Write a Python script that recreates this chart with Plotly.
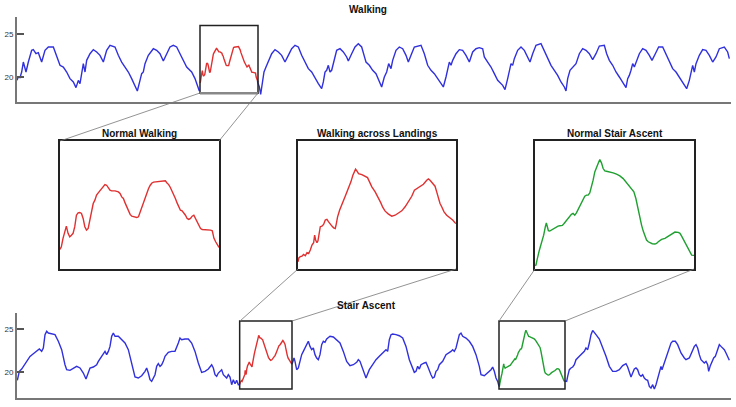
import plotly.graph_objects as go

# ---------------- data ----------------
# Walking, blue part before the highlighted segment
walk_t_pre = [51,55,60,65,70,75,78,85,95,100,108,115,125,135,145,160,170,180,190,200,210,220,228,235,240,245,250,255,260,270,280,290,300,310,320,330,345,355,365,375,385,395,405,412,420,425,430,435,445,460,470,480,490,500,510,520,530,540,550,560,575,585,592,598]
walk_v_pre = [19.61,20.00,19.92,20.58,21.74,21.16,20.58,21.74,23.10,23.18,22.71,22.83,21.74,23.10,23.49,23.49,22.52,21.36,21.16,20.58,19.81,19.42,18.76,19.61,19.22,20.58,21.55,20.58,21.94,22.71,23.18,22.91,22.52,21.74,23.10,23.68,23.49,22.52,21.74,21.16,20.58,19.81,19.03,18.37,19.61,20.39,20.58,21.55,22.52,23.29,23.10,22.71,21.86,22.71,23.49,23.68,23.49,22.71,21.94,21.16,20.58,19.81,19.03,18.37]
# Walking, blue part after the highlighted segment
walk_t_post = [772,778,782,787,792,798,805,815,825,835,845,855,865,875,885,895,905,915,925,935,945,955,965,970,975,980,985,990,995,1000,1010,1020,1030,1040,1045,1055,1065,1075,1085,1095,
               1098,1108,1118,1128,1138,1145,1153,1160,1166,1173,1178,1188,1198,1208,1218,1225,1233,1243,1263,1273,1283,1293,1303,1313,1323,1330,1338,1343,1348,1353,1358,1368,1378,1388,1398,1408,1418,1428,1438,1448,1453,1463,1473,1483,1493,1508,1515,1523,1528,1533,1538,1543,1553,1563,1573,1583,1590,1598,1608,1623,1633,1643,1653,1663,1673,1683,1693,1698,1703,1710,1718,1728,1738,1748,1758,1768,1778,1788,1798,1813,1820,1828,1838,1848,1858,1868,1878,1883,1888,1893,1898,1903,1908,1918,1928,1938,1948,1956,1966,1976,1988,1998,2008,2018,2028,2038,2048,2060,2068,2073,2078,2083,2088,2098,2108,2118,2128,2138,2148,2158,2173,2183,2188]
walk_v_post = [19.50,18.84,17.98,19.22,20.58,21.16,21.74,22.71,23.18,22.91,22.52,21.74,22.52,23.29,23.68,23.49,22.52,21.74,20.97,20.58,19.81,19.22,18.64,19.42,20.58,20.78,21.36,20.58,20.78,21.55,23.10,23.29,22.91,22.33,21.86,22.71,23.49,23.88,23.49,22.13,
               21.74,21.36,20.78,20.39,19.42,18.84,20.00,20.58,21.55,20.97,21.94,23.10,23.49,23.29,22.52,21.74,22.52,23.49,23.68,22.71,21.36,20.78,20.39,19.81,19.22,18.84,20.00,20.78,21.74,21.36,21.94,22.71,23.18,23.10,22.52,21.74,22.91,23.29,23.41,23.29,22.33,21.74,21.16,20.39,19.61,19.03,18.53,19.81,20.58,21.55,21.36,22.13,23.10,23.49,23.10,22.33,21.74,22.71,23.68,23.88,23.10,22.13,21.36,20.78,20.19,19.42,18.84,18.37,19.81,20.78,21.16,21.55,22.71,23.29,23.10,22.71,22.02,22.71,23.60,23.68,22.71,21.94,21.36,20.58,20.00,19.42,18.76,19.81,20.19,20.78,21.55,21.16,21.74,22.71,23.29,23.10,22.52,21.94,22.71,23.49,23.49,22.71,21.74,20.97,20.58,20.00,19.42,18.64,19.61,20.39,21.36,20.58,21.55,22.52,23.18,23.10,22.52,21.74,22.33,23.29,23.49,22.91,22.13]

# Stair ascent, blue parts
stair_t_pre = [52,58,65,72,80,90,100,110,118,125,130,135,140,145,155,165,175,185,195,200,210,220,230,240,250,258,265,270,280,290,295,305,310,315,320,325,330,335,340,345,355,365,375,385,395,405,415,425,435,440,445,450,455,460,465,470,475,480,485,490,495,505,515,525,530,535,540,545,555,565,575,585,595,605,615,625,635,640,645,650,655,665,670,675,680,685,690,695,700,705,710,715,719]
stair_v_pre = [19.03,20.08,20.35,20.74,21.12,21.82,22.13,22.40,22.67,22.40,22.79,24.34,24.73,24.53,24.46,24.34,23.57,22.60,20.85,20.27,20.19,20.47,20.66,20.47,19.88,19.19,20.08,20.47,20.58,20.85,21.24,21.82,22.21,22.40,22.02,22.40,22.98,24.15,24.53,24.15,24.15,23.76,23.37,22.60,20.85,19.42,19.30,19.57,20.08,20.47,19.88,19.11,18.91,19.30,19.69,20.66,20.97,20.66,20.85,21.24,21.82,22.29,22.40,22.40,22.79,23.37,23.95,23.76,23.84,23.84,23.37,22.40,21.05,19.96,20.08,20.35,20.85,20.47,19.69,19.50,19.88,20.27,19.69,19.50,19.30,19.69,19.42,18.53,19.11,18.64,19.03,18.53,18.55]
stair_t_mid = [876,882,885,890,895,900,905,910,915,920,925,930,935,940,945,950,955,960,965,970,975,980,990,1000,1010,1020,1030,1040,1050,1060,1070,1075,1080,1085,1090,1098,1108,1118,1128,1138,1148,1153,1158,1163,1168,1173,1178,1188,1198,1208,1218,1228,1238,1243,1248,1253,1258,1263,1273,1278,1283,1288,1293,1298,1303,1308,1313,1318,1328,1338,1348,1353,1358,1363,1368,1373,1378,1383,1388,1398,1408,1418,1428,1438,1443,1453,1463,1473,1478,1483,1488,1493,1497]
stair_v_mid = [20.91,21.63,21.24,20.27,20.47,21.24,22.02,22.40,22.79,23.37,23.57,22.98,22.60,22.79,22.02,21.63,21.43,22.02,23.18,23.57,23.45,23.84,24.15,24.07,23.76,23.37,22.40,21.24,20.74,20.85,21.12,21.43,21.24,20.74,20.08,19.30,20.27,20.85,21.43,21.82,22.21,22.40,22.60,22.40,23.76,24.34,24.42,24.34,24.22,23.95,22.98,21.43,20.27,19.96,20.08,20.66,20.35,20.85,21.05,21.12,20.66,20.08,19.69,19.30,19.42,20.08,20.27,20.85,21.24,22.02,22.21,22.40,22.60,22.40,22.79,23.76,24.34,24.53,24.15,23.95,23.57,22.98,22.02,20.66,19.69,19.57,19.88,20.27,20.58,20.08,19.30,18.91,18.33]
stair_t_post = [1695,1700,1703,1708,1713,1718,1723,1728,1738,1743,1753,1758,1763,1768,1773,1778,1783,1788,1798,1803,1808,1818,1828,1838,1848,1858,1868,1878,1883,1888,1893,1898,1903,1908,1913,1918,1923,1928,1933,1938,1943,1948,1953,1958,1963,1968,1973,1978,1983,1986,1991,1998,2003,2008,2013,2018,2026,2033,2043,2053,2058,2068,2078,2083,2088,2093,2098,2103,2113,2118,2123,2126,2131,2136,2141,2146,2153,2158,2163,2173,2178,2183,2188]
stair_v_post = [18.94,18.91,19.50,20.27,20.47,20.58,20.85,21.43,21.82,22.02,22.40,22.79,22.60,23.37,24.34,24.84,24.53,24.34,23.84,23.37,22.79,21.82,20.66,20.08,20.08,20.27,20.74,20.97,20.58,19.88,19.42,19.88,20.35,20.47,20.27,19.69,19.50,19.69,19.30,19.11,19.03,18.33,18.14,18.53,18.02,18.53,19.30,19.88,20.66,20.27,20.85,21.43,22.02,22.79,23.37,23.57,23.57,23.18,22.21,21.63,21.43,21.63,22.60,22.98,23.18,22.79,22.02,21.43,21.05,21.24,20.85,20.08,20.74,21.24,21.63,21.82,22.60,23.18,22.98,22.60,22.21,21.82,21.36]

# Inset segments (local sample positions inside each magnified window)
nw_t = [31,35,40,45,50,55,60,65,70,75,80,85,90,95,100,105,110,115,120,125,130,135,140,145,150,155,160,165,170,175,180,185,195,205,210,215,220,225,230,235,240,245,250,260,265,270,275,280,285,290,295,300,305,310,320,330,340,345,350,355,360,365,370,375,380,385,390,395,400,405,410,415,420,425,430,435,440,445,450,455,465,475,480,485,490,495,500,505]
nw_v = [19.31,19.47,19.99,20.40,20.75,20.30,20.09,20.19,20.30,20.71,21.42,21.57,21.59,21.53,21.22,20.71,20.50,20.60,21.12,21.63,22.14,22.35,22.66,22.80,22.92,23.07,23.21,23.31,23.27,23.07,22.96,22.92,22.92,22.86,22.76,22.55,22.45,22.18,21.90,21.63,21.47,21.36,21.32,21.28,21.32,21.63,21.94,22.25,22.51,22.76,23.07,23.27,23.41,23.46,23.48,23.48,23.54,23.54,23.41,23.31,23.13,22.86,22.66,22.45,22.18,21.90,21.73,21.69,21.57,21.42,21.22,21.16,21.22,21.36,21.42,21.22,21.01,20.75,20.60,20.54,20.54,20.54,20.50,20.46,19.99,19.78,19.62,19.43]
la_t = [53,56,60,65,70,75,80,85,90,95,100,103,106,110,113,117,120,125,130,135,140,145,150,155,160,165,168,172,178,185,190,195,200,207,212,218,222,226,230,235,245,255,262,268,275,285,295,302,308,315,325,335,345,355,365,375,385,395,403,410,420,430,440,445,450,460,465,470,475,480,485,492,500,510,518,525,528]
la_v = [18.55,18.80,18.86,18.90,19.00,18.92,19.11,19.06,19.27,19.58,19.72,20.19,19.89,19.72,19.84,20.30,20.71,20.75,20.85,21.12,21.16,21.01,20.91,20.75,20.64,20.60,20.87,21.32,21.73,22.04,22.35,22.59,22.86,23.17,23.48,23.89,24.15,24.26,24.15,23.99,23.93,23.83,23.74,23.48,23.17,22.86,22.51,22.18,21.90,21.67,21.49,21.36,21.42,21.57,21.69,21.94,22.25,22.59,22.96,23.07,23.17,23.33,23.58,23.66,23.58,23.37,23.21,22.86,22.45,22.14,21.94,21.63,21.42,21.28,21.12,20.95,20.91]
sa_t = [46,49,52,55,58,62,67,72,77,80,83,86,90,95,100,105,110,115,120,128,133,138,145,150,155,160,165,170,175,180,185,190,195,200,205,210,215,220,225,230,235,240,245,250,255,260,270,280,290,300,310,318,325,335,342,348,352,356,360,365,370,375,380,385,390,397,405,410,415,425,435,440,450,458,465,475,480,485,490,495,500,505,510,515,522]
sa_v = [18.31,18.35,18.65,19.06,19.17,19.47,19.78,20.19,20.71,20.95,20.71,20.46,20.44,20.50,20.54,20.62,20.71,20.75,20.77,20.79,20.91,21.05,21.22,21.32,21.47,21.53,21.42,21.57,21.77,21.98,22.25,22.45,22.59,22.66,22.66,22.80,23.17,23.58,24.09,24.40,24.61,24.85,24.65,24.30,24.15,24.13,24.09,24.03,23.95,23.85,23.68,23.48,23.27,23.07,22.86,22.45,22.04,21.63,21.22,20.81,20.44,20.09,19.89,19.78,19.72,19.66,19.64,19.68,19.78,19.93,19.99,20.05,20.17,20.30,20.38,20.36,20.30,20.13,19.93,19.72,19.47,19.27,19.06,18.96,18.94]

titles = ["Walking", "Stair Ascent", "Normal Walking", "Walking across Landings", "Normal Stair Ascent"]
y_ticks = [20, 25]

# ---------------- styling / layout constants ----------------
W, H = 736, 407
BLUE, RED, GREEN = "#3030dd", "#e03030", "#1fa030"
LW = 1.4

def px(x):
    return x / W

def py(y):
    return 1 - y / H

# windows in the main panels (time units) that the insets magnify
win_walk = (600, 774)
win_land = (719, 876)
win_sa = (1497, 1695)
box_top_y = (18.1, 26.0)
box_bot_y = (18.02, 25.93)

def place(ts, win):
    t0, t1 = ts[0], ts[-1]
    return [win[0] + (t - t0) / (t1 - t0) * (win[1] - win[0]) for t in ts]

fig = go.Figure()

def line(x, y, color, xa, ya):
    fig.add_trace(go.Scatter(x=x, y=y, mode="lines", line=dict(color=color, width=LW),
                             xaxis=xa, yaxis=ya, hoverinfo="skip"))

# top panel
line(walk_t_pre, walk_v_pre, BLUE, "x", "y")
line(place(nw_t, win_walk), nw_v, RED, "x", "y")
line(walk_t_post, walk_v_post, BLUE, "x", "y")
# bottom panel
line(stair_t_pre, stair_v_pre, BLUE, "x2", "y2")
line(place(la_t, win_land), la_v, RED, "x2", "y2")
line(stair_t_mid, stair_v_mid, BLUE, "x2", "y2")
line(place(sa_t, win_sa), sa_v, GREEN, "x2", "y2")
line(stair_t_post, stair_v_post, BLUE, "x2", "y2")
# insets
line(nw_t, nw_v, RED, "x3", "y3")
line(la_t, la_v, RED, "x4", "y4")
line(sa_t, sa_v, GREEN, "x5", "y5")

AXC = "#777777"
main_x = dict(range=[51, 2193], showline=True, linecolor=AXC, linewidth=2, showticklabels=False,
              ticks="", showgrid=False, zeroline=False)
main_y = dict(tickvals=y_ticks, ticks="inside", ticklen=7, tickwidth=1.5, tickcolor="#555",
              showline=True, linecolor=AXC, linewidth=2, showgrid=False, zeroline=False,
              tickfont=dict(size=8, color="#333", family="Liberation Sans, Arial"))
inset_ax = dict(showline=True, mirror=True, linecolor="#222", linewidth=1.5, showticklabels=False,
                ticks="", showgrid=False, zeroline=False)

xd = [px(17), px(731)]
in_y = [py(269), py(141)]
fig.update_layout(
    width=W, height=H, margin=dict(l=0, r=0, t=0, b=0),
    paper_bgcolor="white", plot_bgcolor="white", showlegend=False,
    xaxis=dict(domain=xd, anchor="y", **main_x),
    yaxis=dict(domain=[py(102), py(17)], range=[17.09, 26.98], anchor="x", **main_y),
    xaxis2=dict(domain=xd, anchor="y2", **main_x),
    yaxis2=dict(domain=[py(398), py(313)], range=[16.98, 26.86], anchor="x2", **main_y),
    xaxis3=dict(domain=[px(60), px(219)], range=[nw_t[0], nw_t[-1]], anchor="y3", **inset_ax),
    yaxis3=dict(domain=in_y, range=list(box_top_y), anchor="x3", **inset_ax),
    xaxis4=dict(domain=[px(298), px(456)], range=[la_t[0], la_t[-1]], anchor="y4", **inset_ax),
    yaxis4=dict(domain=in_y, range=list(box_top_y), anchor="x4", **inset_ax),
    xaxis5=dict(domain=[px(535), px(694)], range=[sa_t[0], sa_t[-1]], anchor="y5", **inset_ax),
    yaxis5=dict(domain=in_y, range=list(box_top_y), anchor="x5", **inset_ax),
)

# highlight boxes
BOXC = "#222"
fig.add_shape(type="rect", xref="x", yref="y", x0=win_walk[0], x1=win_walk[1], y0=box_top_y[0], y1=box_top_y[1],
              line=dict(color=BOXC, width=1.5))
fig.add_shape(type="line", xref="x", yref="y", x0=win_walk[0], x1=win_walk[1], y0=box_top_y[0], y1=box_top_y[0],
              line=dict(color="#888", width=2.5))
fig.add_shape(type="rect", xref="x2", yref="y2", x0=win_land[0], x1=win_land[1], y0=box_bot_y[0], y1=box_bot_y[1],
              line=dict(color=BOXC, width=1.5))
fig.add_shape(type="rect", xref="x2", yref="y2", x0=win_sa[0], x1=win_sa[1], y0=box_bot_y[0], y1=box_bot_y[1],
              line=dict(color=BOXC, width=1.5))

# connector lines (pixel positions)
connectors = [((200, 93), (60, 141)), ((258, 93), (219, 141)),
              ((240, 321), (298, 269)), ((292, 321), (456, 269)),
              ((499, 321), (535, 269)), ((565, 321), (694, 269))]
for (a, b) in connectors:
    fig.add_shape(type="line", xref="paper", yref="paper", x0=px(a[0]), y0=py(a[1]), x1=px(b[0]), y1=py(b[1]),
                  line=dict(color="#777", width=0.8))

# titles
title_pos = [(368, 10), (366, 305), (139, 133), (377, 133), (615, 133)]
for txt, (x, y) in zip(titles, title_pos):
    fig.add_annotation(text="<b>" + txt + "</b>", x=px(x), y=py(y), xref="paper", yref="paper",
                       showarrow=False, xanchor="center", yanchor="middle",
                       font=dict(size=10, color="#111", family="Liberation Sans, Arial"))

fig.write_html("out.html")
